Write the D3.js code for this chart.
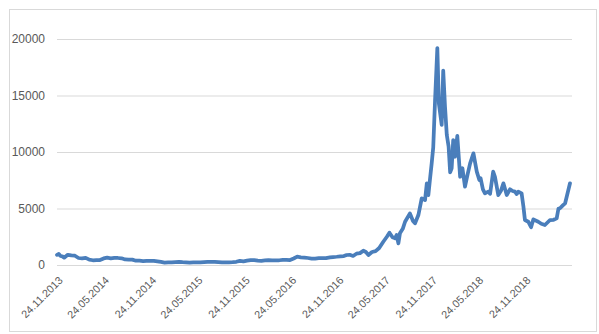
<!DOCTYPE html>
<html>
<head>
<meta charset="utf-8">
<script src="https://cdn.jsdelivr.net/npm/d3@7"></script>
<style>
  html, body { margin: 0; padding: 0; background: #fff; }
  svg { display: block; }
</style>
</head>
<body>
<svg id="chart" width="599" height="334"></svg>
<script>
const tickLabels = ["24.11.2013","24.05.2014","24.11.2014","24.05.2015","24.11.2015","24.05.2016","24.11.2016","24.05.2017","24.11.2017","24.05.2018","24.11.2018"];
const yTicks = [0, 5000, 10000, 15000, 20000];

const dates = [
"2013-11-24","2013-12-01","2013-12-08","2013-12-15","2013-12-22","2014-01-05","2014-01-19","2014-02-02","2014-02-16","2014-03-02",
"2014-03-16","2014-03-30","2014-04-13","2014-04-27","2014-05-11","2014-05-25","2014-06-08","2014-06-22","2014-07-06","2014-07-20",
"2014-08-03","2014-08-17","2014-08-31","2014-09-14","2014-09-28","2014-10-12","2014-10-26","2014-11-09","2014-11-23","2014-12-07",
"2014-12-21","2015-01-04","2015-01-18","2015-02-01","2015-02-15","2015-03-01","2015-03-15","2015-03-29","2015-04-12","2015-04-26",
"2015-05-10","2015-05-24","2015-06-07","2015-06-21","2015-07-05","2015-07-19","2015-08-02","2015-08-16","2015-08-30","2015-09-13",
"2015-09-27","2015-10-11","2015-10-25","2015-11-08","2015-11-22","2015-12-06","2015-12-20","2016-01-03","2016-01-17","2016-01-31",
"2016-02-14","2016-02-28","2016-03-13","2016-03-27","2016-04-10","2016-04-24","2016-05-08","2016-05-22","2016-06-05","2016-06-19",
"2016-07-03","2016-07-17","2016-07-31","2016-08-14","2016-08-28","2016-09-11","2016-09-25","2016-10-09","2016-10-25","2016-11-06",
"2016-11-20","2016-12-04","2016-12-18","2016-12-29","2017-01-10","2017-01-23","2017-02-05","2017-02-19","2017-03-04","2017-03-14",
"2017-03-24","2017-04-07","2017-04-21","2017-05-05","2017-05-21","2017-06-04","2017-06-14","2017-06-26","2017-07-06","2017-07-12",
"2017-07-19","2017-07-25","2017-08-05","2017-08-14","2017-09-02","2017-09-14","2017-09-22","2017-10-05","2017-10-18","2017-10-31",
"2017-11-07","2017-11-13","2017-11-19","2017-11-26","2017-12-02","2017-12-09","2017-12-18","2017-12-24","2018-01-04","2018-01-10",
"2018-01-17","2018-01-24","2018-01-31","2018-02-06","2018-02-12","2018-02-18","2018-02-25","2018-03-06","2018-03-17","2018-03-26",
"2018-04-05","2018-04-15","2018-04-25","2018-05-08","2018-05-21","2018-05-31","2018-06-05","2018-06-14","2018-06-22","2018-07-05",
"2018-07-12","2018-07-24","2018-07-31","2018-08-13","2018-08-24","2018-09-02","2018-09-15","2018-09-28","2018-10-08","2018-10-17",
"2018-10-24","2018-10-30","2018-11-12","2018-11-19","2018-11-25","2018-12-08","2018-12-19","2018-12-28","2019-01-16","2019-01-28",
"2019-02-11","2019-03-03","2019-03-17","2019-03-29","2019-04-05","2019-04-11","2019-04-23","2019-05-01","2019-05-10","2019-05-20"
];
const values = [
900,980,800,760,650,900,850,820,620,580,
630,470,420,440,440,580,650,590,630,620,
590,490,480,475,380,380,350,360,370,370,
320,270,210,230,235,260,285,250,235,220,
240,240,225,245,270,275,280,255,230,230,
235,245,285,370,325,390,440,430,385,370,
400,430,415,415,420,455,460,440,575,740,
680,660,620,570,570,605,600,615,680,705,
730,765,790,885,900,800,1000,1050,1265,1150,
885,1150,1230,1500,2060,2500,2860,2450,2360,2650,
1920,2800,3200,3830,4570,3900,3690,4420,5900,5750,
7230,6190,7520,9000,10400,14500,19200,14300,12400,17200,
14000,11500,10500,8200,8560,11060,9580,11420,7810,8560,
6930,8000,9000,9880,8260,7520,7670,6700,6340,6490,
6300,8260,7800,6190,6600,7230,6190,6700,6550,6490,
6280,6490,6340,5200,3980,3830,3340,4040,3830,3650,
3540,3980,4000,4130,5000,5020,5300,5460,6300,7230
];

const data = dates.map((d, i) => ({ date: d3.timeParse("%Y-%m-%d")(d), value: values[i] }));

const svg = d3.select("#chart");
const font = "'Liberation Sans', Arial, sans-serif";
const textColor = "#595959";
const gridColor = "#d9d9d9";

// chart border
svg.append("rect")
  .attr("x", 9.5).attr("y", 9.5).attr("width", 587).attr("height", 322)
  .attr("fill", "#fff").attr("stroke", gridColor).attr("stroke-width", 1);

const x = d3.scaleTime()
  .domain([d3.timeParse("%Y-%m-%d")("2013-11-24"), d3.timeParse("%Y-%m-%d")("2019-05-20")])
  .range([57, 570]);
const y = d3.scaleLinear().domain([0, 20000]).range([265, 39]);

// gridlines + y axis labels
const yAxis = d3.axisLeft(y).tickValues(yTicks).tickSize(-515).tickPadding(12).tickFormat(d3.format("d"));
const gy = svg.append("g").attr("transform", "translate(57,0)").call(yAxis);
gy.select(".domain").remove();
gy.selectAll(".tick line").attr("stroke", gridColor).attr("stroke-width", 1);
gy.selectAll(".tick text").attr("fill", textColor).attr("font-family", font).attr("font-size", "12px");

// x axis
const parseTick = d3.timeParse("%d.%m.%Y");
const tickDates = tickLabels.map(parseTick);
const xAxis = d3.axisBottom(x).tickValues(tickDates).tickSize(0).tickFormat(d3.timeFormat("%d.%m.%Y"));
const gx = svg.append("g").attr("transform", "translate(0,265)").call(xAxis);
gx.select(".domain").attr("stroke", gridColor).attr("d", "M57,0.5H572");
gx.selectAll(".tick text")
  .attr("fill", textColor).attr("font-family", font).attr("font-size", "10.8px")
  .attr("text-anchor", "end")
  .attr("x", 0).attr("y", 0).attr("dy", 0)
  .attr("transform", "translate(6,16) rotate(-45)");

// line
const line = d3.line().x(d => x(d.date)).y(d => y(d.value));
svg.append("path").datum(data)
  .attr("fill", "none").attr("stroke", "#4A7EBB").attr("stroke-width", 3.75)
  .attr("stroke-linejoin", "round").attr("stroke-linecap", "round")
  .attr("d", line);
</script>
</body>
</html>
